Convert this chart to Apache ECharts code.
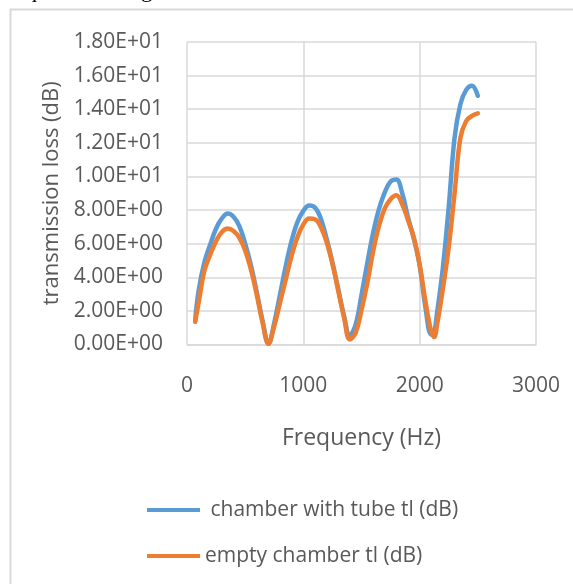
<!DOCTYPE html>
<html>
<head>
<meta charset="utf-8">
<script src="https://cdn.jsdelivr.net/npm/echarts@6/dist/echarts.min.js"></script>
<style>
html,body{margin:0;padding:0;background:#fff;}
#c{width:573px;height:584px;}
</style>
</head>
<body>
<div id="c"></div>
<script>
var frequencies = [70,100,150,200,250,300,350,400,450,500,550,600,650,700,750,800,850,900,950,1000,
  1050,1100,1150,1200,1250,1300,1350,1400,1450,1500,1550,1600,1650,1700,1750,1800,1850,1900,1950,2000,
  2050,2100,2125,2150,2200,2250,2300,2350,2400,2450,2500];
var chamberWithTube = [1.4,3.2,4.9,5.95,6.9,7.5,7.79,7.6,7.05,6.0,4.7,3.1,1.4,0.05,1.3,3.0,4.7,6.2,7.3,7.95,
  8.27,8.15,7.5,6.3,4.9,3.3,1.7,0.55,1.2,2.95,4.85,6.65,8.05,9.05,9.7,9.82,9.0,7.55,6.3,4.7,
  2.2,0.6,0.75,1.9,4.6,8.2,12.3,14.3,15.15,15.4,14.8];
var emptyChamber = [1.35,2.5,4.4,5.35,6.15,6.7,6.9,6.75,6.35,5.6,4.45,2.95,1.3,0.05,1.1,2.5,3.9,5.3,6.4,7.15,
  7.5,7.45,7.0,6.1,4.8,3.2,1.6,0.3,0.7,2.05,3.65,5.55,7.05,8.1,8.65,8.88,8.35,7.4,6.35,4.75,
  2.55,0.75,0.45,1.2,3.35,5.8,9.0,12.3,13.3,13.6,13.75];
var seriesNames = [' chamber with tube tl (dB)', 'empty chamber tl (dB)'];
var yTickLabels = ['0.00E+00','2.00E+00','4.00E+00','6.00E+00','8.00E+00','1.00E+01','1.20E+01','1.40E+01','1.60E+01','1.80E+01'];
var xTickLabels = ['0','1000','2000','3000'];

function pairs(xs, ys){ return xs.map(function(x,i){ return [x, ys[i]]; }); }

var font = '"Open Sans", sans-serif';
var grey = '#595959';
var gridC = '#d9d9d9';
var chart = echarts.init(document.getElementById('c'), null, {renderer:'canvas'});
chart.setOption({
  animation: false,
  backgroundColor: '#fff',
  graphic: [
    {type:'rect', shape:{x:10.5, y:9.5, width:620, height:620}, style:{fill:'none', stroke:gridC, lineWidth:2}, silent:true, z:-1},
    {type:'text', left:0, top:-21, style:{text:'frequencies range.', font:'23px "Liberation Serif", serif', fill:'#000'}}
  ],
  grid: {left:187, right:37, top:42, bottom:239.5, containLabel:false},
  xAxis: {
    type:'value', min:0, max:3000, interval:1000,
    name:'Frequency (Hz)', nameLocation:'middle', nameGap:82,
    nameTextStyle:{color:grey, fontFamily:font, fontSize:23},
    axisLine:{show:true, lineStyle:{color:gridC, width:1.5}},
    axisTick:{show:false},
    axisLabel:{color:grey, fontFamily:font, fontSize:21, margin:31,
      formatter:function(v){ return xTickLabels[Math.round(v/1000)]; }},
    splitLine:{show:true, lineStyle:{color:gridC, width:1.5}}
  },
  yAxis: {
    type:'value', min:0, max:18, interval:2,
    name:'transmission loss (dB)', nameLocation:'middle', nameGap:110,
    nameTextStyle:{color:grey, fontFamily:font, fontSize:22},
    axisLine:{show:false}, axisTick:{show:false},
    axisLabel:{color:grey, fontFamily:font, fontSize:21, margin:24,
      formatter:function(v){ return yTickLabels[Math.round(v/2)]; }},
    splitLine:{show:true, lineStyle:{color:gridC, width:1.5}}
  },
  legend: [
    {data:[seriesNames[0]], left:142, top:493, icon:'rect', itemWidth:53, itemHeight:4,
     textStyle:{color:grey, fontFamily:font, fontSize:21, lineHeight:24}},
    {data:[seriesNames[1]], left:142, top:539, icon:'rect', itemWidth:53, itemHeight:4,
     textStyle:{color:grey, fontFamily:font, fontSize:21, lineHeight:24}}
  ],
  series: [
    {name:seriesNames[0], type:'line', smooth:0.4, showSymbol:false, data:pairs(frequencies, chamberWithTube),
     lineStyle:{color:'#5B9BD5', width:4.5, cap:'round', join:'round'}, itemStyle:{color:'#5B9BD5'}, z:2},
    {name:seriesNames[1], type:'line', smooth:0.4, showSymbol:false, data:pairs(frequencies, emptyChamber),
     lineStyle:{color:'#ED7D31', width:4.5, cap:'round', join:'round'}, itemStyle:{color:'#ED7D31'}, z:3}
  ]
});
</script>
</body>
</html>
